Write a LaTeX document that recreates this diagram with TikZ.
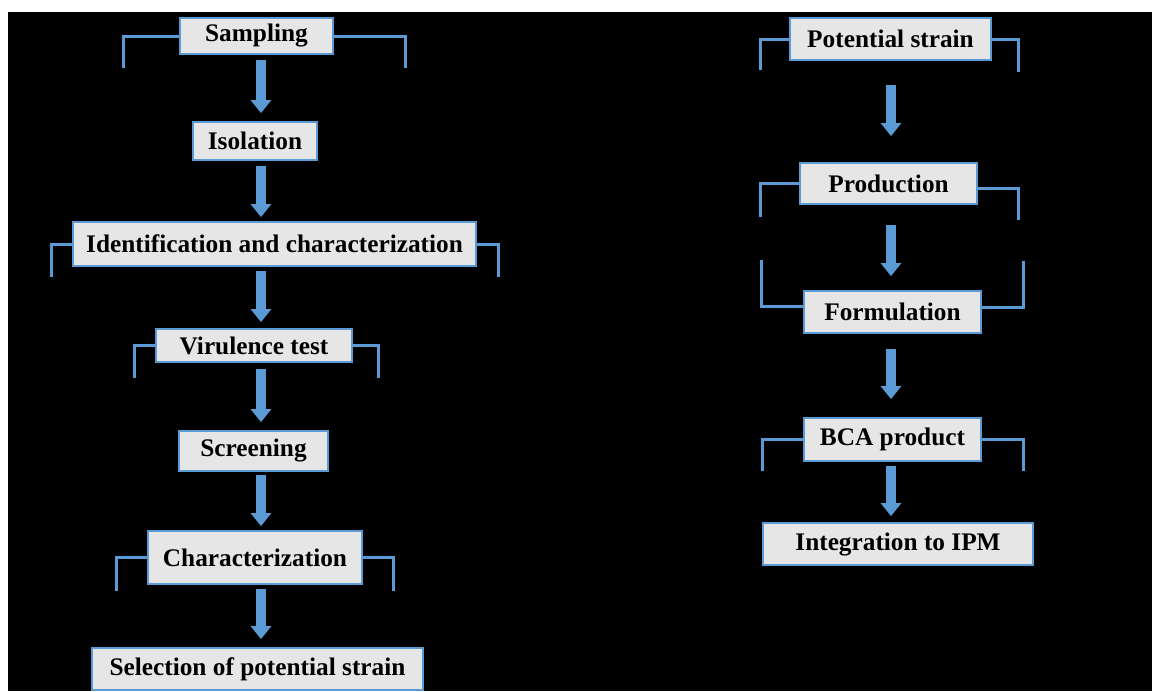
\documentclass[tikz,border=0pt]{standalone}
\usepackage{fontspec}
\setmainfont{Liberation Serif}
\usetikzlibrary{arrows.meta}
\definecolor{boxblue}{HTML}{5B9BD5}
\definecolor{boxgray}{HTML}{E7E6E6}
\tikzset{
  stage/.style={draw=boxblue, line width=1pt, fill=boxgray, inner sep=0pt,
    font=\fontsize{14.4}{17}\selectfont\bfseries, text=black},
  flow/.style={draw=boxblue, line width=5.7pt, -{Triangle[width=11.3pt,length=7.4pt]}},
  brace/.style={draw=boxblue, line width=1.7pt}
}
\begin{document}
\begin{tikzpicture}[x=0.02cm,y=-0.02cm]
	\useasboundingbox (0,0) rectangle (1152,691);
	\fill[white] (0,0) rectangle (1152,691);
	\fill[black] (8,12) rectangle (1152,691);
	% arrow columns
	\coordinate (lcol) at (261,0);
	\coordinate (rcol) at (891,0);
	% left column
	\node[stage, minimum width=3.06cm, minimum height=0.72cm] (sampling) at (256.5,36) {Sampling};
	\node[stage, minimum width=2.48cm, minimum height=0.76cm] (isolation) at (255,141) {Isolation};
	\node[stage, minimum width=8.06cm, minimum height=0.88cm] (ident) at (274.5,244) {Identification and characterization};
	\node[stage, minimum width=3.92cm, minimum height=0.66cm] (virulence) at (254,345.5) {Virulence test};
	\node[stage, minimum width=2.98cm, minimum height=0.80cm] (screening) at (253.5,451) {Screening};
	\node[stage, minimum width=4.28cm, minimum height=1.06cm] (charact) at (255,557.5) {Characterization};
	\node[stage, minimum width=6.62cm, minimum height=0.84cm] (selection) at (257.5,669) {Selection of potential strain};
	% right column
	\node[stage, minimum width=4.02cm, minimum height=0.84cm] (potential) at (890.5,39) {Potential strain};
	\node[stage, minimum width=3.54cm, minimum height=0.82cm] (production) at (888.5,183.5) {Production};
	\node[stage, minimum width=3.54cm, minimum height=0.84cm] (formulation) at (892.5,312) {Formulation};
	\node[stage, minimum width=3.54cm, minimum height=0.86cm] (bca) at (892.5,439.5) {BCA product};
	\node[stage, minimum width=5.40cm, minimum height=0.84cm] (ipm) at (898,544) {Integration to IPM};
	% arrows
	\draw[flow, shorten <=0.1cm, shorten >=0.16cm] (sampling.south -| lcol) -- (isolation.north -| lcol);
	\draw[flow, shorten <=0.1cm, shorten >=0.08cm] (isolation.south -| lcol) -- (ident.north -| lcol);
	\draw[flow, shorten <=0.08cm, shorten >=0.12cm] (ident.south -| lcol) -- (virulence.north -| lcol);
	\draw[flow, shorten <=0.12cm, shorten >=0.16cm] (virulence.south -| lcol) -- (screening.north -| lcol);
	\draw[flow, shorten <=0.06cm, shorten >=0.08cm] (screening.south -| lcol) -- (charact.north -| lcol);
	\draw[flow, shorten <=0.08cm, shorten >=0.16cm] (charact.south -| lcol) -- (selection.north -| lcol);
	\draw[flow, shorten <=0.48cm, shorten >=0.52cm] (potential.south -| rcol) -- (production.north -| rcol);
	\draw[flow, shorten <=0.40cm, shorten >=0.28cm] (production.south -| rcol) -- (formulation.north -| rcol);
	\draw[flow, shorten <=0.30cm, shorten >=0.36cm] (formulation.south -| rcol) -- (bca.north -| rcol);
	\draw[flow, shorten <=0.08cm, shorten >=0.12cm] (bca.south -| rcol) -- (ipm.north -| rcol);
	% side brackets
	\draw[brace] (sampling.west) -- ++(-56,0) -- ++(0,32);
	\draw[brace] (sampling.east) -- ++(72,0) -- ++(0,32);
	\draw[brace] (ident.west) -- ++(-21,0) -- ++(0,33);
	\draw[brace] (ident.east) -- ++(22,0) -- ++(0,33);
	\draw[brace] (virulence.west) -- ++(-21,0) -- ++(0,32);
	\draw[brace] (virulence.east) -- ++(26,0) -- ++(0,32);
	\draw[brace] (charact.west) -- ++(-31,0) -- ++(0,33);
	\draw[brace] (charact.east) -- ++(31,0) -- ++(0,33);
	\draw[brace] (potential.west) -- ++(-29,0) -- ++(0,31);
	\draw[brace] (potential.east) -- ++(27,0) -- ++(0,33);
	\draw[brace] (production.west) -- ++(-39,0) -- ++(0,33);
	\draw[brace] ([yshift=-0.09cm]production.east) -- ++(41,0) -- ++(0,32);
	\draw[brace] ([yshift=0.12cm]formulation.west) -- ++(-42,0) -- ++(0,-46);
	\draw[brace] ([yshift=0.1cm]formulation.east) -- ++(42,0) -- ++(0,-46);
	\draw[brace] (bca.west) -- ++(-41,0) -- ++(0,31);
	\draw[brace] (bca.east) -- ++(42,0) -- ++(0,31);
\end{tikzpicture}
\end{document}
